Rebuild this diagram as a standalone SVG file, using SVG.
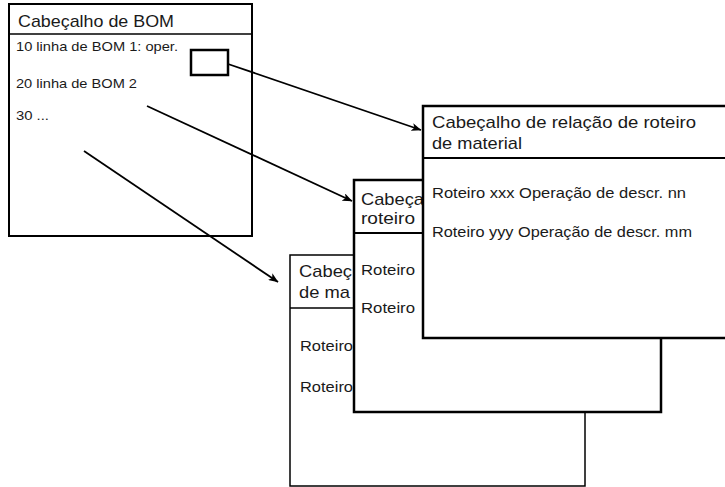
<svg xmlns="http://www.w3.org/2000/svg" width="725" height="487" viewBox="0 0 725 487">
<style>
.box{fill:#fff;stroke:#000}
.thin{stroke-width:1.5}
.thick{stroke-width:2.5}
.sep{stroke:#000;fill:none}
text{font-family:"Liberation Sans",Arial,sans-serif;fill:#1a1a1a}
.h{font-size:17px}
.s{font-size:13.5px}
.b{font-size:15px}
.conn{stroke:#000;stroke-width:1.8;fill:none;marker-end:url(#arr)}
</style>
<defs>
<marker id="arr" viewBox="0 0 10 8" refX="9.5" refY="4" markerWidth="10" markerHeight="8" markerUnits="userSpaceOnUse" orient="auto">
<path d="M0,0 L10,4 L0,8 L2.5,4 z" fill="#000"/>
</marker>
</defs>
<rect width="725" height="487" fill="#fff"/>
<g id="bom">
<rect class="box" x="9" y="4" width="243" height="232" stroke-width="2"/>
<line class="sep" x1="9" y1="34" x2="252" y2="34" stroke-width="1.5"/>
<text class="h" x="18" y="27" textLength="156" lengthAdjust="spacingAndGlyphs">Cabeçalho de BOM</text>
<text class="s" x="16" y="51" textLength="162" lengthAdjust="spacingAndGlyphs">10 linha de BOM 1: oper.</text>
<text class="s" x="16" y="88" textLength="121" lengthAdjust="spacingAndGlyphs">20 linha de BOM 2</text>
<text class="s" x="16" y="120" textLength="33" lengthAdjust="spacingAndGlyphs">30 ...</text>
</g>
<g id="oper">
<rect class="box thick" x="191" y="50" width="37" height="25"/>
</g>
<g id="rel-back">
<rect class="box thin" x="290" y="255" width="295" height="231"/>
<line class="sep" x1="290" y1="308" x2="585" y2="308" stroke-width="1.5"/>
<text class="h" x="299" y="277" textLength="53" lengthAdjust="spacingAndGlyphs">Cabeç</text>
<text class="h" x="299" y="298" textLength="51" lengthAdjust="spacingAndGlyphs">de ma</text>
<text class="b" x="300" y="351" textLength="53" lengthAdjust="spacingAndGlyphs">Roteiro</text>
<text class="b" x="300" y="392" textLength="53" lengthAdjust="spacingAndGlyphs">Roteiro</text>
</g>
<g id="rel-middle">
<rect class="box thick" x="354" y="180" width="307" height="232"/>
<line class="sep" x1="354" y1="233" x2="661" y2="233" stroke-width="2"/>
<text class="h" x="361" y="205" textLength="63" lengthAdjust="spacingAndGlyphs">Cabeça</text>
<text class="h" x="361" y="224" textLength="54" lengthAdjust="spacingAndGlyphs">roteiro</text>
<text class="b" x="361" y="275" textLength="54" lengthAdjust="spacingAndGlyphs">Roteiro</text>
<text class="b" x="361" y="313" textLength="54" lengthAdjust="spacingAndGlyphs">Roteiro</text>
</g>
<g id="rel-front">
<rect class="box thick" x="423" y="106" width="310" height="232"/>
<line class="sep" x1="423" y1="158" x2="725" y2="158" stroke-width="2"/>
<text class="h" x="432" y="128" textLength="264" lengthAdjust="spacingAndGlyphs">Cabeçalho de relação de roteiro</text>
<text class="h" x="432" y="149" textLength="90" lengthAdjust="spacingAndGlyphs">de material</text>
<text class="b" x="432" y="198" textLength="254" lengthAdjust="spacingAndGlyphs">Roteiro xxx Operação de descr. nn</text>
<text class="b" x="432" y="237" textLength="260" lengthAdjust="spacingAndGlyphs">Roteiro yyy Operação de descr. mm</text>
</g>
<g id="connectors">
<line class="conn" x1="228" y1="64" x2="421" y2="130"/>
<line class="conn" x1="147" y1="106" x2="352" y2="201"/>
<line class="conn" x1="84" y1="151" x2="278" y2="282"/>
</g>
</svg>
